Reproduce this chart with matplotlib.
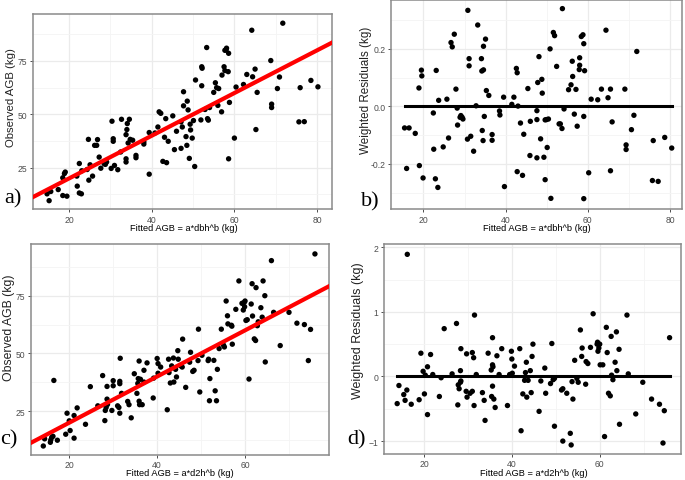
import matplotlib
matplotlib.use("Agg")
import matplotlib.pyplot as plt
import numpy as np

# ---------------- data ----------------
# Panel a: fitted (dbh model) vs observed
a_fit = [14.7, 15.6, 15.2, 17.4, 18.5, 18.5, 19.1, 18.9, 19.5, 21.9, 22.0, 22.5, 23.0, 22.5, 23.1,
         24.4, 24.7, 24.8, 25.1, 25.7, 26.2, 26.7, 26.9, 27.3, 27.7, 28.5, 28.6, 29.1, 28.8, 30.2,
         30.4, 30.7, 30.7, 31.0, 31.8, 32.5, 32.7, 33.8, 33.8, 33.8, 34.0, 34.1, 34.3, 34.6, 34.8,
         35.4, 36.2, 36.2, 38.1, 38.1, 39.4, 39.4, 40.8, 41.5, 41.8, 42.2, 42.7, 43.1, 43.4, 43.6,
         44.0, 45.1, 45.5, 46.0, 47.1, 47.1, 47.4, 47.7, 47.7, 48.3, 48.5, 48.6, 48.8, 49.1, 49.3,
         49.4, 49.8, 50.1, 50.4, 50.6, 51.9, 52.1, 52.2, 52.1, 52.9, 53.3, 53.5, 53.7, 54.0, 55.0,
         55.4, 55.7, 56.0, 56.2, 56.9, 57.0, 57.5, 57.7, 57.7, 58.0, 58.1, 58.6, 58.5, 58.6, 58.8,
         60.0, 60.4, 62.2, 63.0, 64.2, 64.4, 65.0, 65.2, 65.5, 68.8, 69.0, 69.0, 70.4, 70.9, 71.7,
         75.6, 75.9, 76.9, 78.5, 80.2]
a_obs = [12.8, 13.9, 9.6, 14.8, 20.3, 12.0, 23.0, 22.3, 11.7, 21.1, 16.4, 13.2, 12.8, 27.0, 23.6,
         24.2, 38.3, 19.2, 26.4, 21.1, 35.5, 35.5, 38.2, 30.0, 24.8, 26.9, 27.4, 27.7, 26.6, 24.7,
         46.8, 38.6, 37.4, 26.1, 24.1, 32.4, 47.7, 27.7, 29.2, 40.5, 42.9, 45.7, 36.6, 47.7, 38.3,
         37.9, 30.8, 29.7, 36.1, 37.1, 41.5, 22.0, 41.3, 44.1, 51.2, 50.5, 28.0, 39.3, 48.0, 27.4,
         37.4, 49.3, 33.5, 42.1, 34.1, 46.5, 44.1, 60.6, 54.0, 39.6, 35.5, 56.2, 52.1, 29.4, 45.4,
         42.7, 38.9, 47.1, 25.6, 66.1, 47.4, 72.3, 71.6, 63.4, 52.3, 81.3, 48.0, 47.3, 53.2, 60.3,
         64.8, 62.5, 54.2, 62.1, 51.2, 68.4, 72.3, 70.5, 80.0, 80.2, 81.0, 78.6, 70.0, 29.2, 55.6,
         38.9, 62.8, 64.0, 68.7, 89.4, 67.6, 71.2, 42.9, 60.3, 75.2, 54.8, 53.2, 62.1, 67.5, 92.7,
         46.5, 62.5, 46.6, 65.9, 62.9]

# Panel b: fitted (dbh model) vs weighted residuals
b_fit = [15.4, 16.5, 15.9, 18.0, 18.9, 19.0, 19.5, 19.6, 19.9, 22.4, 22.5, 22.9, 23.1, 23.5, 23.7,
         24.8, 25.7, 26.1, 26.7, 27.0, 27.5, 27.9, 28.2, 28.3, 28.9, 29.1, 29.4, 29.6, 30.7, 30.8,
         31.1, 31.1, 31.5, 32.2, 32.8, 33.2, 34.1, 34.2, 34.3, 34.5, 34.6, 34.6, 34.8, 35.1, 35.3,
         35.9, 36.7, 36.7, 38.5, 38.6, 39.5, 39.7, 41.5, 42.0, 42.6, 42.8, 42.8, 43.0, 43.6, 44.1,
         44.4, 45.4, 45.9, 46.0, 47.6, 47.6, 47.6, 47.8, 48.1, 48.5, 48.8, 48.9, 49.3, 49.6, 49.6,
         49.9, 50.1, 50.4, 50.8, 51.0, 51.6, 51.9, 52.4, 53.0, 53.3, 53.7, 53.8, 54.2, 55.3, 55.9,
         56.2, 56.3, 56.7, 57.1, 57.4, 57.9, 58.0, 58.0, 58.4, 58.8, 59.0, 59.2, 59.0, 59.0, 60.2,
         60.8, 62.4, 63.3, 64.4, 64.9, 65.5, 65.5, 65.9, 69.0, 69.3, 69.3, 70.6, 71.2, 71.9, 75.7,
         75.9, 77.1, 78.7, 80.4]
b_res = [-0.075, -0.075, -0.216, -0.094, 0.064, -0.206, 0.126, 0.106, -0.249, -0.023, -0.149, -0.252,
         0.125, -0.282, 0.021, -0.141, 0.025, -0.110, 0.222, 0.207, 0.251, 0.060, -0.006, -0.065,
         -0.038, -0.032, -0.038, -0.044, -0.114, 0.334, 0.166, 0.141, -0.104, -0.156, 0.002, 0.283,
         0.166, 0.123, -0.084, -0.119, 0.209, 0.127, -0.035, 0.234, 0.055, 0.038, -0.098, -0.118,
         -0.016, -0.030, 0.032, -0.279, 0.007, 0.032, 0.132, 0.117, -0.227, 0.001, -0.058, -0.240,
         -0.097, 0.062, -0.171, -0.052, -0.015, -0.179, -0.046, 0.083, 0.173, -0.113, 0.094, 0.046,
         -0.177, -0.047, -0.255, -0.046, -0.143, -0.044, 0.200, -0.320, 0.257, 0.246, 0.139, -0.061,
         -0.061, -0.077, 0.340, -0.009, 0.058, 0.075, 0.157, 0.104, -0.027, 0.059, -0.069, 0.128,
         0.169, 0.143, 0.243, 0.249, 0.218, 0.124, -0.035, -0.321, -0.231, 0.025, 0.023, 0.060,
         0.265, 0.030, 0.060, -0.224, -0.054, 0.060, -0.134, -0.150, -0.081, -0.031, 0.191, -0.258,
         -0.119, -0.261, -0.108, -0.145]

# Panel c: fitted (d2h model) vs observed
c_fit = [14.1, 14.4, 15.7, 15.8, 16.0, 16.3, 17.3, 16.5, 19.2, 19.5, 20.0, 20.2, 21.1, 21.1, 21.8,
         23.7, 24.8, 26.5, 27.6, 28.1, 28.2, 28.4, 28.6, 28.6, 28.7, 29.7, 30.0, 30.0, 31.0, 31.3,
         31.5, 31.6, 31.5, 31.5, 31.9, 33.3, 33.6, 34.1, 34.8, 35.4, 35.6, 35.7, 35.9, 35.9, 36.0,
         36.2, 36.6, 37.0, 37.0, 37.7, 39.1, 39.2, 40.0, 40.2, 40.2, 40.8, 42.3, 42.6, 42.7, 43.0,
         43.3, 43.7, 43.8, 44.2, 44.4, 44.7, 44.8, 45.4, 45.8, 45.7, 46.5, 47.4, 47.6, 48.1, 48.4,
         49.3, 49.4, 49.7, 50.2, 51.6, 51.7, 51.9, 52.0, 52.9, 53.2, 53.5, 53.7, 54.1, 54.6, 55.1,
         55.3, 55.7, 56.0, 56.1, 56.9, 57.0, 57.1, 57.9, 58.6, 59.3, 59.6, 59.8, 60.0, 59.9, 60.2,
         60.5, 60.9, 61.4, 61.6, 61.7, 62.1, 62.4, 62.5, 62.8, 63.0, 63.6, 63.9, 64.1, 64.5, 64.6,
         66.0, 66.5, 68.0, 70.0, 71.8, 73.5, 74.4, 74.9, 75.9]
c_obs = [9.9, 13.0, 11.5, 12.5, 13.6, 14.1, 12.4, 38.3, 15.0, 24.1, 20.8, 16.6, 13.3, 23.1, 26.4,
         19.3, 35.6, 27.3, 40.4, 20.9, 25.3, 26.6, 35.7, 30.2, 27.9, 25.3, 38.2, 36.0, 27.3, 26.6,
         37.9, 47.9, 36.9, 24.1, 32.7, 29.2, 27.8, 22.1, 41.2, 32.7, 37.0, 39.1, 46.7, 29.3, 27.8,
         38.8, 27.8, 42.7, 37.6, 45.9, 30.7, 39.3, 47.8, 45.6, 41.4, 44.1, 25.6, 47.5, 41.7, 37.2,
         44.6, 48.0, 37.6, 43.1, 39.8, 51.2, 47.5, 44.6, 56.2, 44.1, 35.3, 46.2, 50.5, 42.2, 42.7,
         46.9, 60.5, 33.3, 49.2, 46.9, 47.5, 29.5, 39.1, 47.0, 33.8, 29.5, 43.1, 52.1, 60.5, 53.6,
         52.8, 72.7, 66.3, 62.8, 62.2, 61.8, 54.0, 69.1, 81.4, 71.7, 68.8, 72.1, 72.7, 70.2, 64.3,
         64.6, 38.9, 71.4, 80.2, 66.2, 56.3, 55.6, 78.5, 62.0, 63.7, 69.8, 65.7, 81.4, 75.0, 46.3,
         90.2, 67.8, 53.4, 67.8, 63.1, 62.5, 46.9, 60.4, 93.1]

# Panel d: fitted (d2h model) vs weighted residuals
d_fit = [13.9, 14.3, 15.4, 15.7, 16.1, 16.2, 17.1, 18.9, 19.3, 19.8, 20.1, 20.3, 20.8, 20.8, 21.5,
         22.0, 23.5, 23.9, 24.6, 26.4, 27.4, 27.7, 27.8, 28.0, 28.3, 28.3, 28.4, 28.4, 29.6, 29.7,
         29.8, 30.5, 31.0, 31.0, 31.3, 31.4, 31.5, 31.9, 33.3, 33.7, 33.9, 34.6, 35.3, 35.4, 35.6,
         35.6, 35.7, 35.6, 35.9, 36.2, 36.6, 37.1, 37.7, 39.0, 39.5, 39.9, 40.0, 40.1, 40.6, 41.8,
         42.1, 42.5, 42.9, 43.1, 43.3, 43.4, 43.7, 44.2, 44.4, 44.6, 44.8, 46.2, 46.6, 47.5, 47.7,
         48.8, 49.1, 49.4, 49.7, 49.7, 51.3, 51.6, 51.6, 52.5, 53.3, 53.5, 53.7, 53.9, 54.3, 54.8,
         55.1, 55.6, 55.9, 56.0, 56.8, 56.9, 57.3, 57.9, 58.5, 59.4, 59.5, 59.6, 59.8, 60.0, 60.1,
         60.7, 61.1, 61.5, 61.7, 62.0, 62.4, 62.6, 62.7, 63.0, 63.5, 63.8, 63.9, 64.4, 64.5, 66.2,
         66.5, 68.2, 69.8, 71.8, 73.6, 74.7, 74.4, 75.9]
d_res = [-0.42, -0.14, -0.28, -0.37, -0.21, 1.89, -0.43, -0.36, 0.36, 0.08, -0.27, 0.02, -0.59, 0.15,
         0.34, 0.03, -0.31, -0.02, 0.74, 0.04, 0.82, -0.44, -0.13, -0.19, -0.09, 0.09, -0.07, 0.43,
         -0.23, 0.35, -0.32, -0.26, -0.23, 0.37, 0.29, -0.45, 0.95, 0.03, -0.25, -0.37, -0.68, 0.36,
         0.10, -0.31, 0.60, -0.15, 0.15, 0.18, -0.35, -0.48, 0.32, 0.03, 0.43, -0.45, 0.03, 0.39,
         0.27, 0.05, 0.16, 0.43, -0.84, -0.27, -0.06, 0.06, 0.22, -0.32, -0.06, 0.09, -0.25, 0.31,
         0.50, -0.54, -0.07, 0.13, -0.26, -0.11, 0.51, -0.05, -0.03, -0.77, -0.21, -0.19, -1.00,
         -0.26, -0.88, -1.06, -0.08, -0.35, 0.25, -0.03, -0.09, 0.72, 0.31, 0.44, -0.12, 0.23, 0.20,
         0.45, 0.97, 0.50, 0.53, 0.39, 0.44, 0.50, 0.18, 0.18, -0.93, 0.76, 0.37, -0.26, -0.30, 0.62,
         0.02, -0.05, 0.22, 0.69, 0.09, 0.42, -0.74, 0.95, 0.04, -0.58, -0.09, -0.35, -0.43, -0.53,
         -1.03, 0.60]

# ---------------- style helpers ----------------
W, H = 685, 481
fig = plt.figure(figsize=(W / 100, H / 100), dpi=100)
fig.patch.set_facecolor("white")

GRID_MAJ = "#EBEBEB"
GRID_MIN = "#F4F4F4"
BORDER = "#8A8A8A"
TICKCOL = "#4D4D4D"
TFONT = ["Liberation Sans", "DejaVu Sans"]
SERIF = ["Liberation Serif", "DejaVu Serif"]


def px_axes(l, r, t, b):
    return fig.add_axes([l / W, 1 - b / H, (r - l) / W, (b - t) / H])


def style(ax, xlim, ylim, xmaj, xmin_, ymaj, ymin_, yfmt=None, xpad=1.5):
    ax.set_xlim(*xlim)
    ax.set_ylim(*ylim)
    ax.set_xticks(xmaj)
    ax.set_xticks(xmin_, minor=True)
    ax.set_yticks(ymaj)
    ax.set_yticks(ymin_, minor=True)
    if yfmt:
        ax.set_yticklabels([yfmt(v) for v in ymaj])
    ax.grid(True, which="major", color=GRID_MAJ, lw=0.9, zorder=0)
    ax.grid(True, which="minor", color=GRID_MIN, lw=0.6, zorder=0)
    ax.set_axisbelow(True)
    for s in ax.spines.values():
        s.set_color(BORDER)
        s.set_linewidth(1.1)
    ax.tick_params(which="major", length=2.5, width=0.7, color=TICKCOL,
                   labelsize=6.2, labelcolor=TICKCOL, pad=1.5)
    ax.tick_params(axis="x", which="major", pad=xpad)
    ax.tick_params(which="minor", length=0)
    for lab in ax.get_xticklabels() + ax.get_yticklabels():
        lab.set_family(TFONT)


def scatter(ax, x, y):
    ax.scatter(x, y, s=15, c="black", edgecolors="none", zorder=3)


# ---------------- panel a ----------------
ax_a = px_axes(33, 332, 15, 210)
style(ax_a, (11.3, 83.6), (5.7, 97.0), [20, 40, 60, 80], [30, 50, 70],
      [25, 50, 75], [12.5, 37.5, 62.5, 87.5])
scatter(ax_a, a_fit, a_obs)
ax_a.axline((0, 0), slope=1, color="#FF0000", lw=3.0, zorder=4)

# ---------------- panel b ----------------
ax_b = px_axes(391, 682, 1, 210)
style(ax_b, (12.1, 82.9), (-0.357, 0.37), [20, 40, 60, 80], [30, 50, 70],
      [-0.2, 0.0, 0.2], [-0.3, -0.1, 0.1, 0.3], yfmt=lambda v: f"{v:.1f}")
scatter(ax_b, b_fit, b_res)
ax_b.plot([min(b_fit), max(b_fit)], [0, 0], color="black", lw=2.2, zorder=4)

# ---------------- panel c ----------------
ax_c = px_axes(31, 329, 245, 456)
style(ax_c, (11.3, 79.1), (6.0, 97.4), [20, 40, 60], [30, 50, 70],
      [25, 50, 75], [12.5, 37.5, 62.5, 87.5], xpad=1.0)
scatter(ax_c, c_fit, c_obs)
ax_c.axline((0, 0), slope=1, color="#FF0000", lw=3.0, zorder=4)

# ---------------- panel d ----------------
ax_d = px_axes(384, 681, 245, 455)
style(ax_d, (10.9, 78.5), (-1.2, 2.05), [20, 40, 60], [30, 50, 70],
      [-1, 0, 1, 2], [-0.5, 0.5, 1.5], xpad=1.0)
scatter(ax_d, d_fit, d_res)
ax_d.plot([min(d_fit), max(d_fit)], [0, 0], color="black", lw=2.2, zorder=4)


# ---------------- titles ----------------
def xt(xc, yc, s, fs=6.7):
    fig.text(xc / W, 1 - yc / H, s, ha="center", va="center", fontsize=fs,
             family=TFONT, color="black")


def yt(xc, yc, s, fs):
    fig.text(xc / W, 1 - yc / H, s, ha="center", va="center", fontsize=fs,
             family=TFONT, color="#222222", rotation=90)


xt(184, 229, "Fitted AGB = a*dbh^b (kg)")
xt(537, 229, "Fitted AGB = a*dbh^b (kg)")
xt(180, 474, "Fitted AGB = a*d2h^b (kg)")
xt(534, 474, "Fitted AGB = a*d2h^b (kg)")
yt(11, 98, "Observed AGB (kg)", 8.2)
yt(366, 90, "Weighted Residuals (kg)", 8.4)
yt(9, 328, "Observed AGB (kg)", 8.8)
yt(358, 331, "Weighted Residuals (kg)", 9.0)


def plab(xl, yc, s):
    fig.text(xl / W, 1 - yc / H, s, ha="left", va="center", fontsize=16,
             family=SERIF, color="black")


plab(4, 199, "a)")
plab(361, 202, "b)")
plab(0, 440, "c)")
plab(347, 440, "d)")

fig.savefig("out.png", dpi=100, facecolor="white")
